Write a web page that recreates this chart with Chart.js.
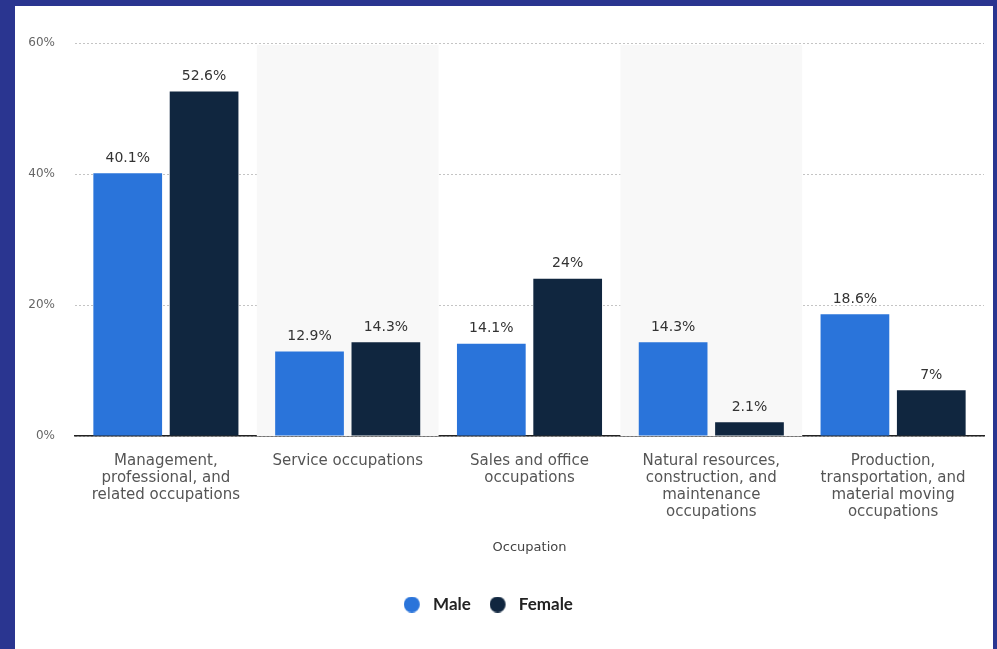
<!DOCTYPE html>
<html>
<head>
<meta charset="utf-8">
<script src="https://cdn.jsdelivr.net/npm/chart.js@4/dist/chart.umd.min.js"></script>
<style>
  html, body { margin: 0; padding: 0; }
  body { width: 997px; height: 649px; background: #2a3590; position: relative; overflow: hidden; }
  #panel { position: absolute; left: 15px; top: 6px; width: 978px; height: 643px; background: #fff; }
  #panel canvas { display: block; }
</style>
</head>
<body>
<div id="panel"><canvas id="occChart" width="978" height="643"></canvas></div>
<script>
const categories = [
  ['Management,', 'professional, and', 'related occupations'],
  ['Service occupations'],
  ['Sales and office', 'occupations'],
  ['Natural resources,', 'construction, and', 'maintenance', 'occupations'],
  ['Production,', 'transportation, and', 'material moving', 'occupations']
];
const maleShare = [40.1, 12.9, 14.1, 14.3, 18.6];
const femaleShare = [52.6, 14.3, 24, 2.1, 7];
const yTicks = [0, 20, 40, 60];

const MALE_COLOR = '#2a74da';
const FEMALE_COLOR = '#10263f';

// round legend marker with some room on its right before the text
function legendDot(color) {
  const c = document.createElement('canvas');
  c.width = 21;
  c.height = 16;
  const g = c.getContext('2d');
  g.fillStyle = color;
  g.beginPath();
  g.arc(8, 8, 8, 0, Math.PI * 2);
  g.fill();
  return c;
}

// light stripes behind every second category
const bandShading = {
  id: 'bandShading',
  beforeDatasetsDraw(chart) {
    const { ctx, chartArea, scales } = chart;
    const x = scales.x;
    const step = (chartArea.right - chartArea.left) / categories.length;
    ctx.save();
    ctx.fillStyle = '#f8f8f8';
    categories.forEach((c, i) => {
      if (i % 2 === 1) {
        const cx = x.getPixelForValue(i);
        ctx.fillRect(cx - step / 2, chartArea.top + 2, step, chartArea.bottom - chartArea.top - 2);
      }
    });
    ctx.restore();
  }
};

// value labels above each bar
const valueLabels = {
  id: 'valueLabels',
  afterDatasetsDraw(chart) {
    const { ctx } = chart;
    ctx.save();
    ctx.font = '14px "DejaVu Sans"';
    ctx.fillStyle = '#333';
    ctx.textAlign = 'center';
    ctx.textBaseline = 'bottom';
    chart.data.datasets.forEach((ds, di) => {
      chart.getDatasetMeta(di).data.forEach((bar, i) => {
        ctx.fillText(ds.data[i] + '%', bar.x, bar.y - 8);
      });
    });
    ctx.restore();
  }
};

// move the legend to sit under the axis title
const legendPlacement = {
  id: 'legendPlacement',
  afterLayout(chart) {
    const lg = chart.legend;
    const h = lg.bottom - lg.top;
    lg.top = 594 - h / 2;
    lg.bottom = lg.top + h;
    lg.left -= 11;
    lg.right -= 11;
  }
};

const ctx = document.getElementById('occChart').getContext('2d');
new Chart(ctx, {
  type: 'bar',
  data: {
    labels: categories,
    datasets: [
      { label: 'Male', data: maleShare, backgroundColor: MALE_COLOR },
      { label: 'Female', data: femaleShare, backgroundColor: FEMALE_COLOR }
    ]
  },
  options: {
    responsive: false,
    animation: false,
    events: [],
    datasets: {
      bar: { categoryPercentage: 0.84, barPercentage: 0.9 }
    },
    layout: { padding: { left: 0, right: 9, top: 37, bottom: 48 } },
    scales: {
      x: {
        grid: { display: false, drawTicks: false },
        border: { display: true, color: '#222', width: 1.5 },
        ticks: {
          autoSkip: false,
          maxRotation: 0,
          padding: 16,
          color: '#555',
          font: { family: '"DejaVu Sans"', size: 15, lineHeight: 1.15 }
        },
        title: {
          display: true,
          text: 'Occupation',
          color: '#444',
          font: { family: '"DejaVu Sans"', size: 13 },
          padding: { top: 4, bottom: 0 }
        },
        afterFit(scale) { scale.height = 119; }
      },
      y: {
        min: 0,
        max: 60,
        afterBuildTicks(scale) { scale.ticks = yTicks.map(v => ({ value: v })); },
        grid: { color: '#c4c4c4', drawTicks: false, lineWidth: 1 },
        border: { display: false, dash: [2, 2] },
        ticks: {
          padding: 20,
          color: '#666',
          font: { family: '"DejaVu Sans"', size: 12 },
          callback: v => v + '%'
        },
        afterFit(scale) { scale.width = 60; }
      }
    },
    plugins: {
      legend: {
        position: 'bottom',
        labels: {
          usePointStyle: true,
          pointStyleWidth: 20.5,
          boxHeight: 16,
          padding: 19,
          color: '#222',
          font: { family: 'Lato', size: 17, weight: 'bold' },
          generateLabels(chart) {
            return chart.data.datasets.map((ds, i) => ({
              text: ds.label,
              fillStyle: ds.backgroundColor,
              strokeStyle: ds.backgroundColor,
              lineWidth: 0,
              pointStyle: legendDot(ds.backgroundColor),
              fontColor: '#222',
              hidden: false,
              datasetIndex: i
            }));
          }
        }
      },
      tooltip: { enabled: false }
    }
  },
  plugins: [bandShading, valueLabels, legendPlacement]
});
</script>
</body>
</html>
